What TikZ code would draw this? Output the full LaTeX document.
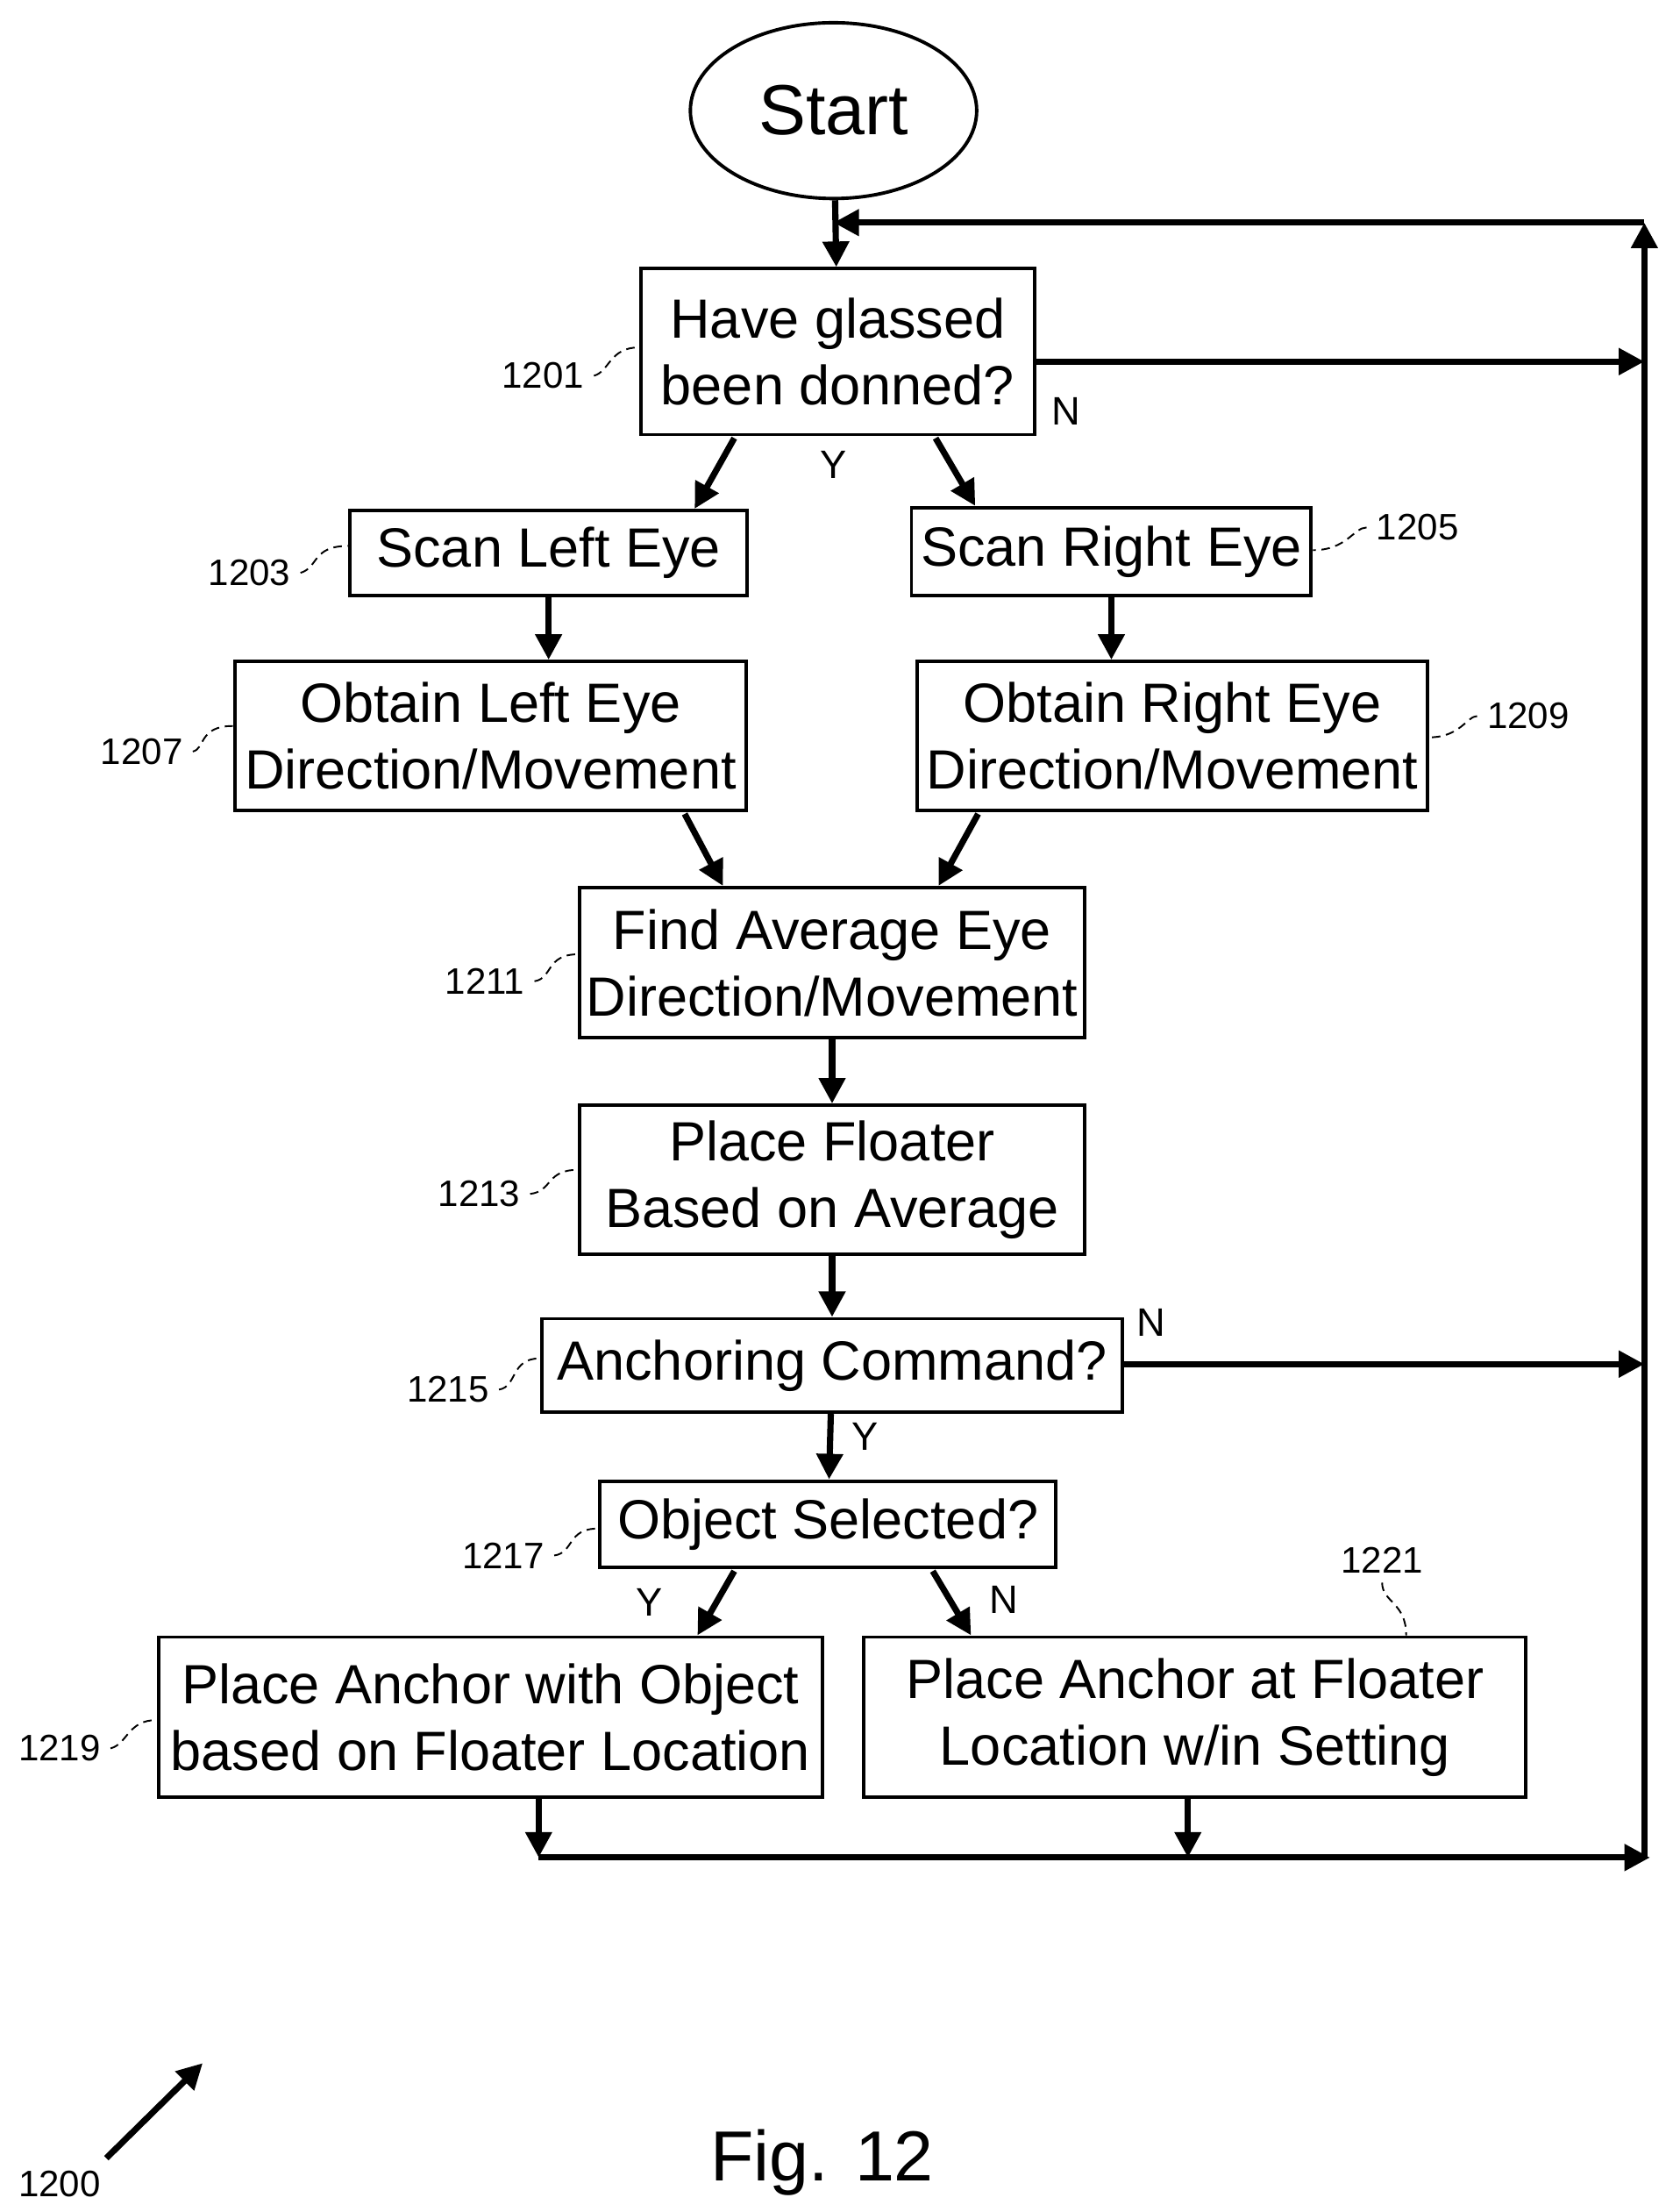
\documentclass[tikz,border=0pt]{standalone}
\usepackage{fontspec}
\setmainfont{Liberation Sans}
\usetikzlibrary{arrows.meta,shapes.geometric}
\begin{document}
\begin{tikzpicture}[x=0.5pt,y=-0.5pt,
  box/.style={draw,line width=1.2pt,inner sep=0pt,align=center,font=\fontsize{19.5}{23.5}\selectfont},
  flow/.style={line width=2.2pt,-{Triangle[length=9pt,width=9pt]}},
  bar/.style={line width=2.2pt},
  ref/.style={font=\fontsize{13}{15}\selectfont},
  sq/.style={line width=0.6pt,densely dashed},
  yn/.style={font=\fontsize{14}{16}\selectfont}]
\useasboundingbox (0,0) rectangle (1180,1560);
\node[draw,ellipse,line width=1.2pt,minimum width=101pt,minimum height=62pt,font=\fontsize{25}{30}\selectfont] (start) at (588,78) {Start};
\node[box,minimum width=139pt,minimum height=58.5pt] (b1201) at (591,248) {Have glassed\\been donned?};
\node[box,minimum width=140pt,minimum height=30pt] (b1203) at (387,390) {Scan Left Eye};
\node[box,minimum width=141pt,minimum height=31pt] (b1205) at (784,389) {Scan Right Eye};
\node[box,minimum width=180.5pt,minimum height=52.5pt] (b1207) at (346,519) {Obtain Left Eye\\Direction/Movement};
\node[box,minimum width=180pt,minimum height=52.5pt] (b1209) at (827,519) {Obtain Right Eye\\Direction/Movement};
\node[box,minimum width=178pt,minimum height=53pt] (b1211) at (587,679) {Find Average Eye\\Direction/Movement};
\node[box,minimum width=178pt,minimum height=52.5pt] (b1213) at (587,832) {Place Floater\\Based on Average};
\node[box,minimum width=205pt,minimum height=33pt] (b1215) at (587,963) {Anchoring Command?};
\node[box,minimum width=161pt,minimum height=30.5pt] (b1217) at (584,1075) {Object Selected?};
\node[box,minimum width=234pt,minimum height=56.5pt] (b1219) at (346,1211) {Place Anchor with Object\\based on Floater Location};
\node[box,minimum width=233.5pt,minimum height=56.5pt] (b1221) at (843,1211) {Place Anchor at Floater\\Location w/in Setting};
% loop coordinates
\coordinate (tr) at (1160,157);
\coordinate (tl) at (588,157);
\coordinate (br) at (1160,1310);
\coordinate (bl) at (380,1310);
\coordinate (bm) at (838,1310);
\coordinate (r1) at (1160,255);
\coordinate (r2) at (1160,962);
\draw[flow] (start) -- (b1201);
\draw[bar] (br) -- (bl);
\draw[flow] (b1219.south -| bl) -- (bl);
\draw[flow] (b1221.south -| bm) -- (bm);
\draw[flow] (bl) -- ([xshift=2pt]br);
\draw[flow] (br) -- (tr);
\draw[flow] (tr) -- (tl);
\draw[flow] (b1201.east |- r1) -- (r1);
\draw[flow] (b1215.east |- r2) -- (r2);
\draw[flow] (518,309) -- (b1203.north -| 490,0);
\draw[flow] (660,309) -- (b1205.north -| 688,0);
\draw[flow] (b1203) -- (b1207.north -| b1203);
\draw[flow] (b1205) -- (b1209.north -| b1205);
\draw[flow] (483,574) -- (b1211.north -| 510,0);
\draw[flow] (690,574) -- (b1211.north -| 662,0);
\draw[flow] (b1211) -- (b1213);
\draw[flow] (b1213) -- (b1215);
\draw[flow] (b1215) -- (b1217);
\draw[flow] (518,1108) -- (b1219.north -| 492,0);
\draw[flow] (658,1108) -- (b1221.north -| 685,0);
% Y/N
\node[yn] (y1) at (588,328) {Y};
\node[yn] (n1) at (752,290) {N};
\node[yn] (n2) at (812,933) {N};
\node[yn] (y2) at (610,1013) {Y};
\node[yn] (y3) at (458,1130) {Y};
\node[yn] (n3) at (708,1128) {N};
% refs
\node[ref] (l1201) at (383,265) {1201};
\draw[sq] (l1201.east) .. controls (430,262) and (430,245) .. (b1201.west |- 0,245);
\node[ref] (l1203) at (176,404) {1203};
\draw[sq] (l1203.east) .. controls (225,400) and (220,385) .. (b1203.west |- 0,385);
\node[ref] (l1205) at (1000,372) {1205};
\draw[sq] (l1205.west) .. controls (955,372) and (950,388) .. (b1205.east |- 0,388);
\node[ref] (l1207) at (100,530) {1207};
\draw[sq] (l1207.east) .. controls (145,528) and (140,512) .. (b1207.west |- 0,512);
\node[ref] (l1209) at (1078,505) {1209};
\draw[sq] (l1209.west) .. controls (1035,505) and (1030,520) .. (b1209.east |- 0,520);
\node[ref] (l1211) at (342,692) {1211};
\draw[sq] (l1211.east) .. controls (390,690) and (385,673) .. (b1211.west |- 0,673);
\node[ref] (l1213) at (338,842) {1213};
\draw[sq] (l1213.east) .. controls (390,840) and (385,825) .. (b1213.west |- 0,825);
\node[ref] (l1215) at (316,980) {1215};
\draw[sq] (l1215.east) .. controls (365,978) and (360,958) .. (b1215.west |- 0,958);
\node[ref] (l1217) at (355,1097) {1217};
\draw[sq] (l1217.east) .. controls (405,1095) and (400,1078) .. (b1217.west |- 0,1078);
\node[ref] (l1219) at (42,1233) {1219};
\draw[sq] (l1219.east) .. controls (90,1230) and (90,1213) .. (b1219.west |- 0,1213);
\node[ref] (l1221) at (975,1100) {1221};
\draw[sq] (l1221.south) .. controls (975,1130) and (992,1130) .. (b1221.north -| 992,0);
\node[ref] (l1200) at (42,1540) {1200};
\coordinate (a1200) at (143,1455);
\draw[line width=2.2pt,-{Triangle[length=9pt,width=9pt]}] (75,1522) -- (a1200);
\node[font=\fontsize{25}{30}\selectfont] (fig) at (580,1525) {Fig. 12};
\end{tikzpicture}
\end{document}
